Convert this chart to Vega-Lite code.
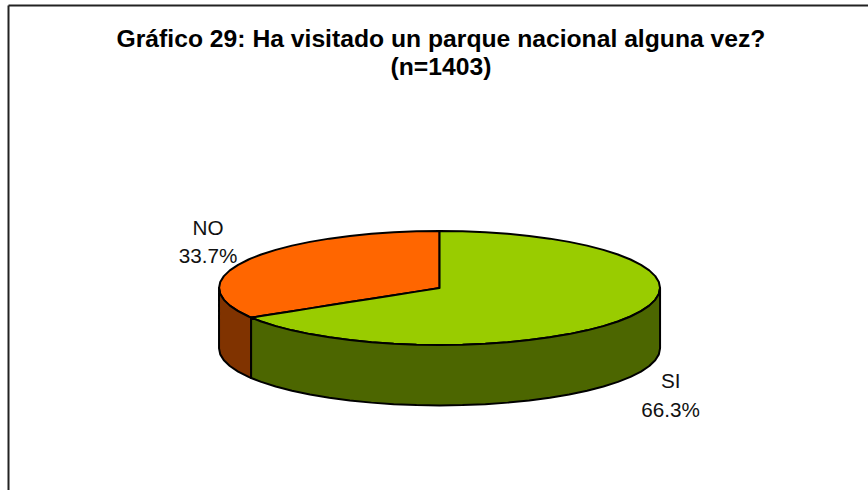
{"$schema":"https://vega.github.io/schema/vega-lite/v6.json","width":860,"height":485,"autosize":{"type":"none"},"padding":{"left":8,"top":5,"right":0,"bottom":0},"background":"white","view":{"stroke":null},"title":{"text":["Gráfico 29: Ha visitado un parque nacional alguna vez?","(n=1403)"],"font":"Liberation Sans","fontSize":24.7,"fontWeight":"bold","color":"#000000","anchor":"middle","lineHeight":28,"dx":3,"dy":74.5,"orient":"top","offset":0},"datasets":{"partes":[
{"parte":"NO cara","i":1,"u":-100,"sup":0,"inf":0},{"parte":"NO cara","i":2,"u":-99.45,"sup":10.45,"inf":-10.45},{"parte":"NO cara","i":3,"u":-97.81,"sup":20.79,"inf":-20.79},{"parte":"NO cara","i":4,"u":-95.11,"sup":30.9,"inf":-30.9},{"parte":"NO cara","i":5,"u":-91.35,"sup":40.67,"inf":-40.67},{"parte":"NO cara","i":6,"u":-86.6,"sup":50,"inf":-50},{"parte":"NO cara","i":7,"u":-85.45,"sup":51.95,"inf":-51.95},{"parte":"NO cara","i":8,"u":-80.9,"sup":58.78,"inf":-49.19},{"parte":"NO cara","i":9,"u":-74.31,"sup":66.91,"inf":-45.18},{"parte":"NO cara","i":10,"u":-66.91,"sup":74.31,"inf":-40.68},{"parte":"NO cara","i":11,"u":-58.78,"sup":80.9,"inf":-35.74},{"parte":"NO cara","i":12,"u":-50,"sup":86.6,"inf":-30.4},{"parte":"NO cara","i":13,"u":-40.67,"sup":91.35,"inf":-24.73},{"parte":"NO cara","i":14,"u":-30.9,"sup":95.11,"inf":-18.79},{"parte":"NO cara","i":15,"u":-20.79,"sup":97.81,"inf":-12.64},{"parte":"NO cara","i":16,"u":-10.45,"sup":99.45,"inf":-6.35},{"parte":"NO cara","i":17,"u":0,"sup":100,"inf":0},
{"parte":"SI cara","i":1,"u":-85.45,"sup":-51.95,"inf":-51.95},{"parte":"SI cara","i":2,"u":-80.9,"sup":-49.19,"inf":-58.78},{"parte":"SI cara","i":3,"u":-74.31,"sup":-45.18,"inf":-66.91},{"parte":"SI cara","i":4,"u":-66.91,"sup":-40.68,"inf":-74.31},{"parte":"SI cara","i":5,"u":-58.78,"sup":-35.74,"inf":-80.9},{"parte":"SI cara","i":6,"u":-50,"sup":-30.4,"inf":-86.6},{"parte":"SI cara","i":7,"u":-40.67,"sup":-24.73,"inf":-91.35},{"parte":"SI cara","i":8,"u":-30.9,"sup":-18.79,"inf":-95.11},{"parte":"SI cara","i":9,"u":-20.79,"sup":-12.64,"inf":-97.81},{"parte":"SI cara","i":10,"u":-10.45,"sup":-6.35,"inf":-99.45},{"parte":"SI cara","i":11,"u":0,"sup":0,"inf":-100},{"parte":"SI cara","i":12,"u":0,"sup":100,"inf":-100},{"parte":"SI cara","i":13,"u":10.45,"sup":99.45,"inf":-99.45},{"parte":"SI cara","i":14,"u":20.79,"sup":97.81,"inf":-97.81},{"parte":"SI cara","i":15,"u":30.9,"sup":95.11,"inf":-95.11},{"parte":"SI cara","i":16,"u":40.67,"sup":91.35,"inf":-91.35},{"parte":"SI cara","i":17,"u":50,"sup":86.6,"inf":-86.6},{"parte":"SI cara","i":18,"u":58.78,"sup":80.9,"inf":-80.9},{"parte":"SI cara","i":19,"u":66.91,"sup":74.31,"inf":-74.31},{"parte":"SI cara","i":20,"u":74.31,"sup":66.91,"inf":-66.91},{"parte":"SI cara","i":21,"u":80.9,"sup":58.78,"inf":-58.78},{"parte":"SI cara","i":22,"u":86.6,"sup":50,"inf":-50},{"parte":"SI cara","i":23,"u":91.35,"sup":40.67,"inf":-40.67},{"parte":"SI cara","i":24,"u":95.11,"sup":30.9,"inf":-30.9},{"parte":"SI cara","i":25,"u":97.81,"sup":20.79,"inf":-20.79},{"parte":"SI cara","i":26,"u":99.45,"sup":10.45,"inf":-10.45},{"parte":"SI cara","i":27,"u":100,"sup":0,"inf":0},
{"parte":"NO lado","i":1,"u":-100,"sup":0,"inf":-106},{"parte":"NO lado","i":2,"u":-99.45,"sup":-10.45,"inf":-116.45},{"parte":"NO lado","i":3,"u":-97.81,"sup":-20.79,"inf":-126.79},{"parte":"NO lado","i":4,"u":-95.11,"sup":-30.9,"inf":-136.9},{"parte":"NO lado","i":5,"u":-91.35,"sup":-40.67,"inf":-146.67},{"parte":"NO lado","i":6,"u":-86.6,"sup":-50,"inf":-156},{"parte":"NO lado","i":7,"u":-85.45,"sup":-51.95,"inf":-157.95},
{"parte":"SI lado","i":1,"u":-85.45,"sup":-51.95,"inf":-157.95},{"parte":"SI lado","i":2,"u":-80.9,"sup":-58.78,"inf":-164.78},{"parte":"SI lado","i":3,"u":-74.31,"sup":-66.91,"inf":-172.91},{"parte":"SI lado","i":4,"u":-66.91,"sup":-74.31,"inf":-180.31},{"parte":"SI lado","i":5,"u":-58.78,"sup":-80.9,"inf":-186.9},{"parte":"SI lado","i":6,"u":-50,"sup":-86.6,"inf":-192.6},{"parte":"SI lado","i":7,"u":-40.67,"sup":-91.35,"inf":-197.35},{"parte":"SI lado","i":8,"u":-30.9,"sup":-95.11,"inf":-201.11},{"parte":"SI lado","i":9,"u":-20.79,"sup":-97.81,"inf":-203.81},{"parte":"SI lado","i":10,"u":-10.45,"sup":-99.45,"inf":-205.45},{"parte":"SI lado","i":11,"u":0,"sup":-100,"inf":-206},{"parte":"SI lado","i":12,"u":10.45,"sup":-99.45,"inf":-205.45},{"parte":"SI lado","i":13,"u":20.79,"sup":-97.81,"inf":-203.81},{"parte":"SI lado","i":14,"u":30.9,"sup":-95.11,"inf":-201.11},{"parte":"SI lado","i":15,"u":40.67,"sup":-91.35,"inf":-197.35},{"parte":"SI lado","i":16,"u":50,"sup":-86.6,"inf":-192.6},{"parte":"SI lado","i":17,"u":58.78,"sup":-80.9,"inf":-186.9},{"parte":"SI lado","i":18,"u":66.91,"sup":-74.31,"inf":-180.31},{"parte":"SI lado","i":19,"u":74.31,"sup":-66.91,"inf":-172.91},{"parte":"SI lado","i":20,"u":80.9,"sup":-58.78,"inf":-164.78},{"parte":"SI lado","i":21,"u":86.6,"sup":-50,"inf":-156},{"parte":"SI lado","i":22,"u":91.35,"sup":-40.67,"inf":-146.67},{"parte":"SI lado","i":23,"u":95.11,"sup":-30.9,"inf":-136.9},{"parte":"SI lado","i":24,"u":97.81,"sup":-20.79,"inf":-126.79},{"parte":"SI lado","i":25,"u":99.45,"sup":-10.45,"inf":-116.45},{"parte":"SI lado","i":26,"u":100,"sup":0,"inf":-106}
],"etiquetas":[{"texto":"NO","u":-105,"v":93},{"texto":"33.7%","u":-105,"v":43.9},{"texto":"SI","u":104.8,"v":-175.4},{"texto":"66.3%","u":104.8,"v":-225.8}]},
"encoding":{"x":{"field":"u","type":"quantitative","scale":{"domain":[-195.7,194.3],"nice":false,"zero":false},"axis":{"orient":"top","title":null,"labels":false,"ticks":false,"grid":false,"domain":true,"domainColor":"#222222","domainWidth":2}},"y":{"type":"quantitative","scale":{"domain":[-354.4,496.5],"nice":false,"zero":false},"axis":{"orient":"left","title":null,"labels":false,"ticks":false,"grid":false,"domain":true,"domainColor":"#222222","domainWidth":2}}},
"layer":[
{"data":{"name":"partes"},"mark":{"type":"area","stroke":"#000000","strokeWidth":2,"strokeJoin":"round","opacity":1,"clip":false},"encoding":{"y":{"field":"sup","type":"quantitative"},"y2":{"field":"inf"},"color":{"field":"parte","type":"nominal","legend":null,"scale":{"domain":["NO cara","SI cara","NO lado","SI lado"],"range":["#FF6600","#99CC00","#803300","#4C6600"]}}}},
{"data":{"name":"etiquetas"},"mark":{"type":"text","font":"Liberation Sans","fontSize":20.7,"color":"#111111","align":"center","baseline":"alphabetic"},"encoding":{"y":{"field":"v","type":"quantitative"},"text":{"field":"texto","type":"nominal"}}}
]}
